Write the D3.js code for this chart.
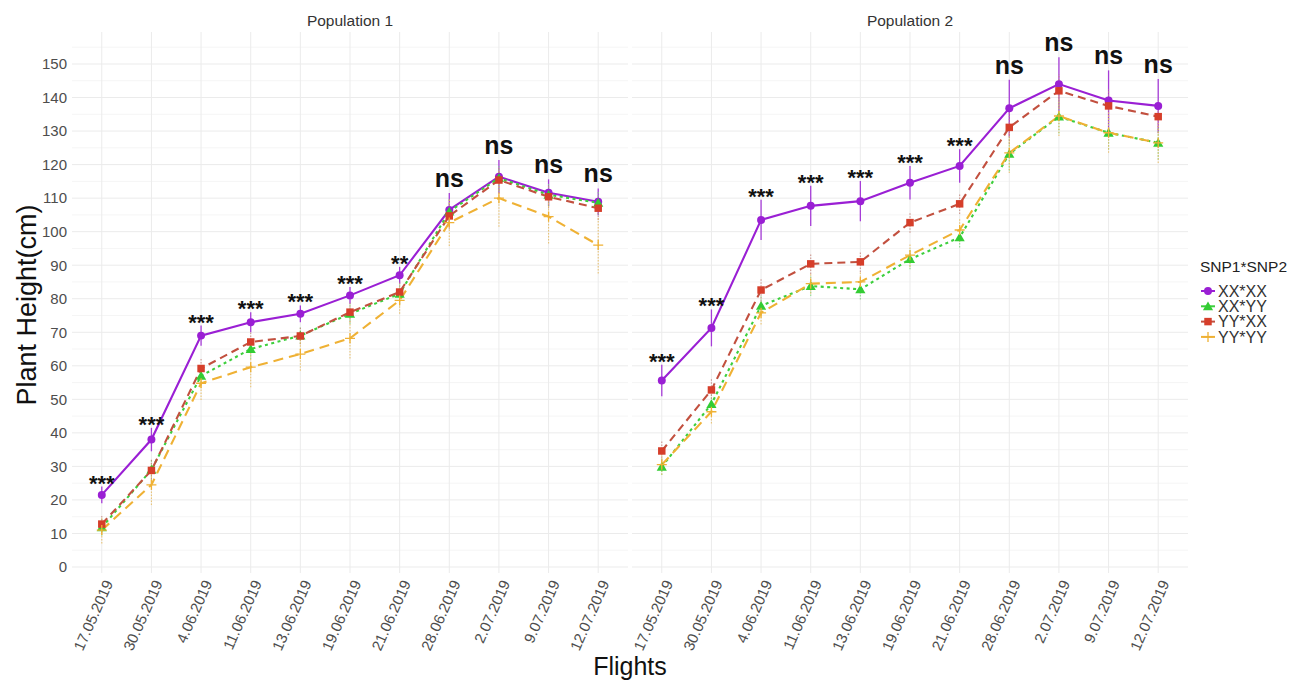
<!DOCTYPE html>
<html><head><meta charset="utf-8">
<script src="https://cdn.jsdelivr.net/npm/d3@7"></script>
<style>
body{margin:0;background:#fff;}
text{font-family:"Liberation Sans",Arial,sans-serif;}
</style>
</head><body><svg id="c" width="1301" height="681"></svg>
<script>
// ---------- data ----------
const flights = ["17.05.2019","30.05.2019","4.06.2019","11.06.2019","13.06.2019","19.06.2019","21.06.2019","28.06.2019","2.07.2019","9.07.2019","12.07.2019"];
const groups = ["XX*XX","XX*YY","YY*XX","YY*YY"];
const panelTitles = ["Population 1","Population 2"];
const yTicks = [0,10,20,30,40,50,60,70,80,90,100,110,120,130,140,150];

// Population 1 means
const p1_XXXX = [21.5, 38, 69, 73, 75.5, 81, 87, 106.5, 116.4, 111.6, 108.9];
const p1_XXYY = [11.8, 29, 57, 65, 69, 75.5, 81.5, 106, 116, 111, 108.6];
const p1_YYXX = [12.8, 28.8, 59.2, 67.1, 68.9, 76, 82, 104.7, 115.4, 110.4, 107];
const p1_YYYY = [11, 24.5, 54.8, 59.6, 63.5, 68.2, 79.5, 102.7, 110, 104.5, 96];
// Population 1 error (± sd)
const p1_XXXX_err = [2.5, 3.5, 3, 3, 2.5, 2.5, 2.5, 5, 5, 4, 4];
const p1_XXYY_err = [2.5, 3, 3, 3, 2.5, 3, 3, 4, 4, 3.5, 3.5];
const p1_YYXX_err = [2.5, 3.5, 3, 3, 2.5, 3, 3, 4, 4, 3.5, 3.5];
const p1_YYYY_err = [4, 6, 5, 6, 5, 6, 4, 7, 8.5, 8, 8.5];
const p1_sig = ["***","***","***","***","***","***","**","ns","ns","ns","ns"];

// Population 2 means
const p2_XXXX = [55.6, 71.3, 103.5, 107.7, 109.1, 114.6, 119.6, 136.8, 144, 139.1, 137.5];
const p2_XXYY = [29.9, 48.6, 77.9, 83.8, 82.8, 91.8, 98.3, 123.2, 134.3, 129.5, 126.5];
const p2_YYXX = [34.6, 52.8, 82.6, 90.4, 91, 102.7, 108.3, 131.1, 142, 137.5, 134.3];
const p2_YYYY = [30.5, 46.3, 75.8, 84.5, 85, 93, 100.5, 123.5, 134.5, 129.5, 126.5];
// Population 2 error (± sd)
const p2_XXXX_err = [4.7, 5.5, 6, 6, 6, 5, 5, 8.5, 8, 9, 8];
const p2_XXYY_err = [2.5, 3, 3, 3, 3, 3, 3, 5, 5, 5, 5];
const p2_YYXX_err = [3, 3.5, 3.5, 3, 3, 3, 3, 5, 5, 5, 5];
const p2_YYYY_err = [3, 3.5, 3.5, 3, 3, 3.5, 3.5, 6, 6, 6, 6];
const p2_sig = ["***","***","***","***","***","***","***","ns","ns","ns","ns"];

// ---------- styles ----------
const style = {
  "XX*XX": {line:"#9a1fd4", pt:"#9a1fd4", dash:null, shape:"circle", err:"#9a1fd4", errDash:null},
  "XX*YY": {line:"#3ccf3c", pt:"#33cc33", dash:"3,3.5", shape:"triangle", err:"#7fd87f", errDash:"1.5,1.5"},
  "YY*XX": {line:"#c2503f", pt:"#d63e2a", dash:"8,5", shape:"square", err:"#c98a80", errDash:"1.5,1.5"},
  "YY*YY": {line:"#efb134", pt:"#efb134", dash:"10,6", shape:"plus", err:"#e9bd62", errDash:"1.5,1.5"}
};

const panels = [
  {title: panelTitles[0], range:[72,628], sig:p1_sig,
   series:{"XX*XX":[p1_XXXX,p1_XXXX_err],"XX*YY":[p1_XXYY,p1_XXYY_err],"YY*XX":[p1_YYXX,p1_YYXX_err],"YY*YY":[p1_YYYY,p1_YYYY_err]}},
  {title: panelTitles[1], range:[632,1188], sig:p2_sig,
   series:{"XX*XX":[p2_XXXX,p2_XXXX_err],"XX*YY":[p2_XXYY,p2_XXYY_err],"YY*XX":[p2_YYXX,p2_YYXX_err],"YY*YY":[p2_YYYY,p2_YYYY_err]}}
];

const svg = d3.select("#c");
const y = d3.scaleLinear().domain([0,150]).range([567,64]);
const panelTop = 32, panelBottom = 573;

function drawShape(g, shape, cx, cy, color) {
  if (shape === "plus") {
    g.append("path").attr("d", `M${cx-5},${cy}H${cx+5}M${cx},${cy-5}V${cy+5}`)
      .attr("stroke", color).attr("stroke-width", 1.3).attr("fill","none");
  } else {
    const type = shape === "circle" ? d3.symbolCircle : shape === "triangle" ? d3.symbolTriangle : d3.symbolSquare;
    const size = shape === "circle" ? 50 : shape === "triangle" ? 45 : 56;
    g.append("path").attr("d", d3.symbol().type(type).size(size)())
      .attr("transform", `translate(${cx},${cy + (shape==="triangle"?1:0)})`).attr("fill", color);
  }
}

panels.forEach(p => {
  const x = d3.scalePoint().domain(flights).range(p.range).padding(0.6);
  const g = svg.append("g");
  // minor grid
  d3.range(5,160,10).forEach(v => {
    g.append("line").attr("x1",p.range[0]).attr("x2",p.range[1]).attr("y1",y(v)).attr("y2",y(v))
      .attr("stroke","#f3f3f3").attr("stroke-width",0.8);
  });
  yTicks.forEach(v => {
    g.append("line").attr("x1",p.range[0]).attr("x2",p.range[1]).attr("y1",y(v)).attr("y2",y(v))
      .attr("stroke","#ebebeb").attr("stroke-width",1);
  });
  flights.forEach(f => {
    g.append("line").attr("x1",x(f)).attr("x2",x(f)).attr("y1",panelTop).attr("y2",panelBottom)
      .attr("stroke","#ebebeb").attr("stroke-width",1);
  });
  // title
  g.append("text").attr("x",(p.range[0]+p.range[1])/2).attr("y",26).attr("text-anchor","middle")
    .attr("font-size",15.5).attr("fill","#333").text(p.title);
  // x axis labels
  const xa = g.append("g").attr("transform",`translate(0,${panelBottom})`)
    .call(d3.axisBottom(x).tickSize(0).tickPadding(0));
  xa.select(".domain").remove();
  xa.selectAll("text").attr("font-size",15).attr("fill","#4d4d4d")
    .attr("font-family","Liberation Sans, Arial, sans-serif")
    .attr("text-anchor","end").attr("dy",null).attr("y",0)
    .attr("transform","translate(6,8) rotate(-66)")
    .attr("dominant-baseline","central");
  // error bars
  groups.forEach(k => {
    const [vals, errs] = p.series[k]; const s = style[k];
    vals.forEach((v,i) => {
      g.append("line").attr("x1",x(flights[i])).attr("x2",x(flights[i]))
        .attr("y1",y(v-errs[i])).attr("y2",y(v+errs[i]))
        .attr("stroke",s.err).attr("stroke-width",k==="XX*XX"?1.3:1.1)
        .attr("stroke-dasharray",s.errDash).attr("opacity",0.85);
    });
  });
  // lines + points
  groups.forEach(k => {
    const [vals] = p.series[k]; const s = style[k];
    const line = d3.line().x((d,i)=>x(flights[i])).y(d=>y(d));
    g.append("path").attr("d",line(vals)).attr("fill","none").attr("stroke",s.line)
      .attr("stroke-width",2.1).attr("stroke-dasharray",s.dash);
  });
  groups.forEach(k => {
    const [vals] = p.series[k]; const s = style[k];
    vals.forEach((v,i) => drawShape(g, s.shape, x(flights[i]), y(v), s.pt));
  });
  // significance labels
  const [top, topErr] = p.series["XX*XX"];
  p.sig.forEach((lab,i) => {
    const yt = y(top[i] + topErr[i]);
    g.append("text").attr("x",x(flights[i])).attr("text-anchor","middle")
      .attr("y", lab === "ns" ? yt - 6 : yt + 4)
      .attr("font-size", lab === "ns" ? 25 : 22).attr("font-weight","bold").attr("fill","#111")
      .text(lab);
  });
});

// y axis
const ya = svg.append("g").attr("transform","translate(72,0)")
  .call(d3.axisLeft(y).tickValues(yTicks).tickSize(0).tickPadding(5));
ya.select(".domain").remove();
ya.selectAll("text").attr("font-size",15).attr("fill","#4d4d4d")
  .attr("font-family","Liberation Sans, Arial, sans-serif");

// axis titles
svg.append("text").attr("transform","translate(36,305) rotate(-90)").attr("text-anchor","middle")
  .attr("font-size",27).attr("fill","#111").text("Plant Height(cm)");
svg.append("text").attr("x",630).attr("y",675).attr("text-anchor","middle")
  .attr("font-size",25).attr("fill","#111").text("Flights");

// legend
const lg = svg.append("g");
lg.append("text").attr("x",1200).attr("y",272).attr("font-size",15.5).attr("fill","#222").text("SNP1*SNP2");
groups.forEach((k,i) => {
  const cy = 291 + i*15.3; const s = style[k];
  lg.append("line").attr("x1",1201).attr("x2",1215).attr("y1",cy).attr("y2",cy)
    .attr("stroke",s.line).attr("stroke-width",2).attr("stroke-dasharray",null);
  drawShape(lg, s.shape, 1208, cy, s.pt);
  lg.append("text").attr("x",1218).attr("y",cy).attr("dy","0.36em").attr("font-size",16)
    .attr("fill","#333").text(k);
});
</script>
</body></html>
